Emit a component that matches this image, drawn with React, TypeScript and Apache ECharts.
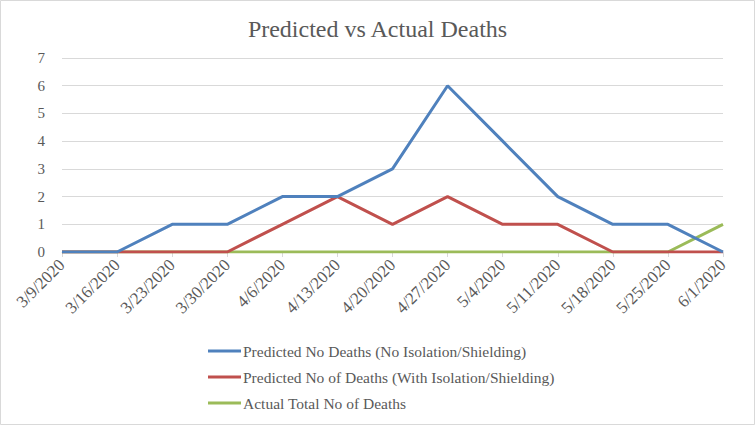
import React, { useEffect, useRef } from "react";
import * as echarts from "echarts";

const categories = [
  "3/9/2020", "3/16/2020", "3/23/2020", "3/30/2020", "4/6/2020", "4/13/2020",
  "4/20/2020", "4/27/2020", "5/4/2020", "5/11/2020", "5/18/2020", "5/25/2020", "6/1/2020",
];
const predictedNoIsolation = [0, 0, 1, 1, 2, 2, 3, 6, 4, 2, 1, 1, 0];
const predictedWithIsolation = [0, 0, 0, 0, 1, 2, 1, 2, 1, 1, 0, 0, 0];
const actualDeaths = [0, 0, 0, 0, 0, 0, 0, 0, 0, 0, 0, 0, 1];
const seriesNames = [
  "Predicted No Deaths (No Isolation/Shielding)",
  "Predicted No of Deaths (With Isolation/Shielding)",
  "Actual Total No of Deaths",
];
const colors = ["#4F81BD", "#C0504D", "#9BBB59"];

const FONT = "'Liberation Serif', 'DejaVu Serif', serif";

export default function App() {
  const ref = useRef<HTMLDivElement>(null);
  useEffect(() => {
    if (!ref.current) return;
    const chart = echarts.init(ref.current, undefined, { renderer: "svg" });
    const data = [predictedNoIsolation, predictedWithIsolation, actualDeaths];
    chart.setOption({
      animation: false,
      backgroundColor: "#ffffff",
      title: {
        text: "Predicted vs Actual Deaths",
        left: "center",
        top: 12,
        textStyle: { fontFamily: FONT, fontSize: 24, fontWeight: "normal", color: "#595959" },
      },
      graphic: [
        {
          type: "rect",
          shape: { x: 0.5, y: 0.5, width: 754, height: 424 },
          style: { fill: "none", stroke: "#d9d9d9", lineWidth: 1 },
          silent: true,
        },
      ],
      grid: { left: 62, right: 32, top: 58, bottom: 173, containLabel: false },
      xAxis: {
        type: "category",
        data: categories,
        boundaryGap: false,
        axisLine: { lineStyle: { color: "#d9d9d9", width: 1 } },
        axisTick: { show: true, alignWithLabel: true, length: 5, lineStyle: { color: "#d9d9d9" } },
        axisLabel: {
          rotate: 45,
          interval: 0,
          margin: 10,
          fontFamily: FONT,
          fontSize: 17,
          color: "#595959",
        },
      },
      yAxis: {
        type: "value",
        min: 0,
        max: 7,
        interval: 1,
        axisLine: { show: false },
        axisTick: { show: false },
        splitLine: { lineStyle: { color: "#d9d9d9", width: 1 } },
        axisLabel: { fontFamily: FONT, fontSize: 15, color: "#595959", margin: 17 },
      },
      legend: {
        orient: "vertical",
        left: 203,
        top: 338,
        itemGap: 10,
        itemWidth: 33,
        itemHeight: 3,
        icon: "rect",
        data: seriesNames,
        textStyle: { fontFamily: FONT, fontSize: 15.5, color: "#595959", padding: [0, 0, 0, -3] },
      },
      series: seriesNames.map((name, i) => ({
        name,
        type: "line",
        data: data[i],
        symbol: "none",
        lineStyle: { color: colors[i], width: 3 },
        itemStyle: { color: colors[i] },
        z: 2 + (2 - i),
      })),
    });
    return () => chart.dispose();
  }, []);
  return (
    <div
      ref={ref}
      style={{ position: "fixed", left: 0, top: 0, width: 755, height: 425 }}
    />
  );
}
